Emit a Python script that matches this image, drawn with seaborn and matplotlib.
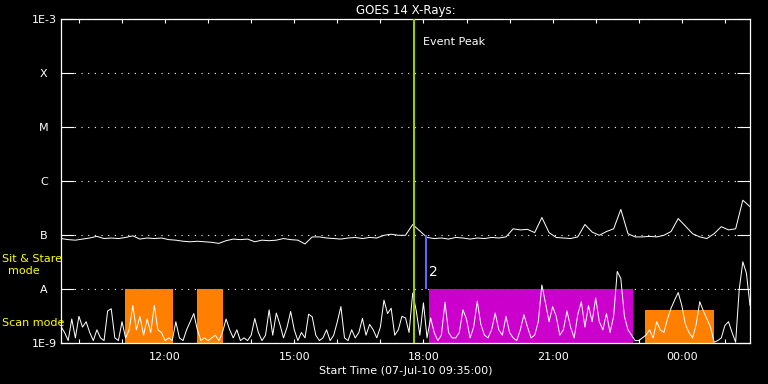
import numpy as np
import pandas as pd
import matplotlib
matplotlib.use("Agg")
import matplotlib.pyplot as plt
import seaborn as sns

# time axis: hours of day, starts 07-Jul-10 09:35
t_start = 9.0 + 35 / 60
t_end = t_start + 16.0

# long channel (1-8 A), log10 flux, 10 min steps
long_log = [
    -7.06, -7.08, -7.09, -7.07, -7.05, -7.02, -7.06, -7.05, -7.06, -7.04,
    -7.01, -7.07, -7.05, -7.06, -7.05, -7.08, -7.09, -7.11, -7.12, -7.11,
    -7.12, -7.13, -7.15, -7.10, -7.07, -7.08, -7.07, -7.12, -7.09, -7.10,
    -7.09, -7.06, -7.08, -7.09, -7.16, -7.03, -7.03, -7.05, -7.06, -7.07,
    -7.05, -7.04, -7.06, -7.04, -7.05, -7.00, -6.98, -7.00, -7.00, -6.80,
    -6.92, -7.04, -7.06, -7.05, -7.07, -7.04, -7.05, -7.07, -7.05, -7.06,
    -7.04, -7.05, -7.03, -6.88, -6.90, -6.89, -6.95, -6.67, -6.95, -7.04,
    -7.05, -7.06, -7.03, -6.80, -6.94, -7.00, -6.93, -6.88, -6.52, -6.97,
    -7.03, -7.03, -7.02, -7.03, -7.00, -6.93, -6.69, -6.83, -6.97, -7.03,
    -7.06, -6.97, -6.84, -6.90, -6.88, -6.35, -6.47,
]

# short channel (0.5-4 A), log10 flux, 5 min steps
short_log = [
    -8.69, -8.80, -8.95, -8.55, -8.90, -8.50, -8.70, -8.60, -8.80, -8.95,
    -8.75, -8.90, -8.95, -8.40, -8.36, -8.90, -8.95, -8.60, -8.90, -8.75,
    -8.30, -8.75, -8.50, -8.85, -8.55, -8.80, -8.30, -8.75, -8.80, -8.95,
    -8.90, -8.95, -8.60, -8.90, -8.95, -8.75, -8.60, -8.45, -8.75, -8.95,
    -8.90, -8.95, -8.90, -8.85, -8.95, -8.80, -8.55, -8.75, -8.90, -8.75,
    -8.95, -8.90, -8.95, -8.85, -8.54, -8.80, -8.95, -8.85, -8.38, -8.85,
    -8.44, -8.65, -8.90, -8.70, -8.41, -8.75, -8.95, -8.80, -8.90, -8.46,
    -8.51, -8.85, -8.95, -8.90, -8.75, -8.95, -8.85, -8.60, -8.32, -8.90,
    -8.95, -8.75, -8.90, -8.80, -8.54, -8.85, -8.65, -8.75, -8.90, -8.70,
    -8.20, -8.45, -8.35, -8.85, -8.75, -8.50, -8.53, -8.80, -8.07, -8.40,
    -8.85, -8.25, -8.90, -8.53, -8.80, -8.95, -8.85, -8.24, -8.80, -8.90,
    -8.90, -8.80, -8.38, -8.55, -8.90, -8.70, -8.22, -8.65, -8.85, -8.90,
    -8.75, -8.44, -8.75, -8.85, -8.50, -8.80, -8.90, -8.95, -8.75, -8.47,
    -8.70, -8.90, -8.85, -8.60, -7.92, -8.25, -8.60, -8.32, -8.50, -8.85,
    -8.75, -8.40, -8.70, -8.90, -8.47, -8.23, -8.70, -8.30, -8.60, -8.16,
    -8.60, -8.75, -8.45, -8.80, -8.50, -7.67, -7.80, -8.50, -8.75, -8.85,
    -8.95, -8.95, -8.90, -8.85, -8.75, -8.90, -8.60, -8.75, -8.80, -8.55,
    -8.35, -8.20, -8.06, -8.30, -8.65, -8.80, -8.90, -8.65, -8.23, -8.40,
    -8.55, -8.70, -8.98, -8.95, -8.90, -8.67, -8.60, -8.80, -8.98, -8.00,
    -7.49, -7.70, -8.30,
]

# observing mode blocks
mode_start = [11.07, 12.75, 18.12, 23.14]
mode_end = [12.19, 13.35, 22.86, 24.74]
mode_top = [1e-8, 1e-8, 1e-8, 10 ** -8.38]
mode_color = ["#ff8000", "#ff8000", "#cc00cc", "#ff8000"]

event_peak = 17.77
event_num = 18.05

level_vals = [1e-9, 1e-8, 1e-7, 1e-6, 1e-5, 1e-4, 1e-3]
level_labels = ["1E-9", "A", "B", "C", "M", "X", "1E-3"]
hour_ticks = np.arange(10, 26)
hour_labels = {12: "12:00", 15: "15:00", 18: "18:00", 21: "21:00", 24: "00:00"}

df_long = pd.DataFrame({"t": t_start + np.arange(len(long_log)) / 6,
                        "flux": 10 ** np.array(long_log)})
df_short = pd.DataFrame({"t": t_start + np.arange(len(short_log)) / 12,
                         "flux": 10 ** np.array(short_log)})

sns.set_style("ticks")
plt.rcParams.update({
    "font.family": ["DejaVu Sans"],
    "figure.facecolor": "black",
    "axes.facecolor": "black",
    "axes.edgecolor": "white",
    "text.color": "white",
    "xtick.color": "white",
    "ytick.color": "white",
    "axes.labelcolor": "white",
})

fig = plt.figure(figsize=(7.68, 3.84), dpi=100)
ax = fig.add_axes([61 / 768, 1 - 343.3 / 384, 689 / 768, 324 / 384])

for s, e, top, c in zip(mode_start, mode_end, mode_top, mode_color):
    ax.bar(s, top - 1e-9, bottom=1e-9, width=e - s, align="edge",
           color=c, linewidth=0, zorder=2)

sns.lineplot(data=df_short, x="t", y="flux", ax=ax, color="white",
             linewidth=0.72, zorder=3)
sns.lineplot(data=df_long, x="t", y="flux", ax=ax, color="white",
             linewidth=0.72, zorder=3)

ax.axvline(event_peak, color="#9ccc00", linewidth=1.5, zorder=4)
ax.vlines(event_num, 1e-8, 1e-7, color="#6464ff", linewidth=1.5, zorder=4)
ax.text(event_num + 0.07, 10 ** -7.68, "2", fontsize=10, va="center",
        ha="left", color="white")
ax.text(18.0, 0.93, "Event Peak", transform=ax.get_xaxis_transform(),
        fontsize=8, va="center", ha="left")

ax.set_yscale("log")
ax.set_ylim(1e-9, 1e-3)
ax.set_xlim(t_start, t_end)
ax.set_yticks(level_vals)
ax.set_yticklabels(level_labels)
ax.yaxis.set_minor_locator(matplotlib.ticker.NullLocator())
ax.set_xticks(hour_ticks)
ax.set_xticklabels([hour_labels.get(h, "") for h in hour_ticks])

ax.tick_params(axis="y", which="major", direction="in", length=9.5, width=0.8,
               left=True, right=True, pad=12.3, labelsize=8)
for lab in ax.get_yticklabels():
    lab.set_horizontalalignment("center")
ax.tick_params(axis="x", which="major", direction="in", length=3, width=0.8,
               top=True, bottom=True, pad=6, labelsize=8)

for sp in ax.spines.values():
    sp.set_color("white")
    sp.set_linewidth(0.9)

ax.yaxis.grid(True, color="white", linestyle=(0, (1, 5)), linewidth=0.8)
ax.set_axisbelow(True)

ax.set_xlabel("Start Time (07-Jul-10 09:35:00)", fontsize=8, labelpad=3)
ax.set_ylabel("")
ax.set_title("GOES 14 X-Rays:", fontsize=8.5, color="white", pad=4)

fig.text(2 / 768, 1 - 259 / 384, "Sit & Stare", color="yellow", fontsize=8,
         va="center", ha="left")
fig.text(24 / 768, 1 - 271 / 384, "mode", color="yellow", fontsize=8,
         va="center", ha="center")
fig.text(2 / 768, 1 - 323 / 384, "Scan mode", color="yellow", fontsize=8,
         va="center", ha="left")

fig.savefig("out.png", dpi=100, facecolor="black")
